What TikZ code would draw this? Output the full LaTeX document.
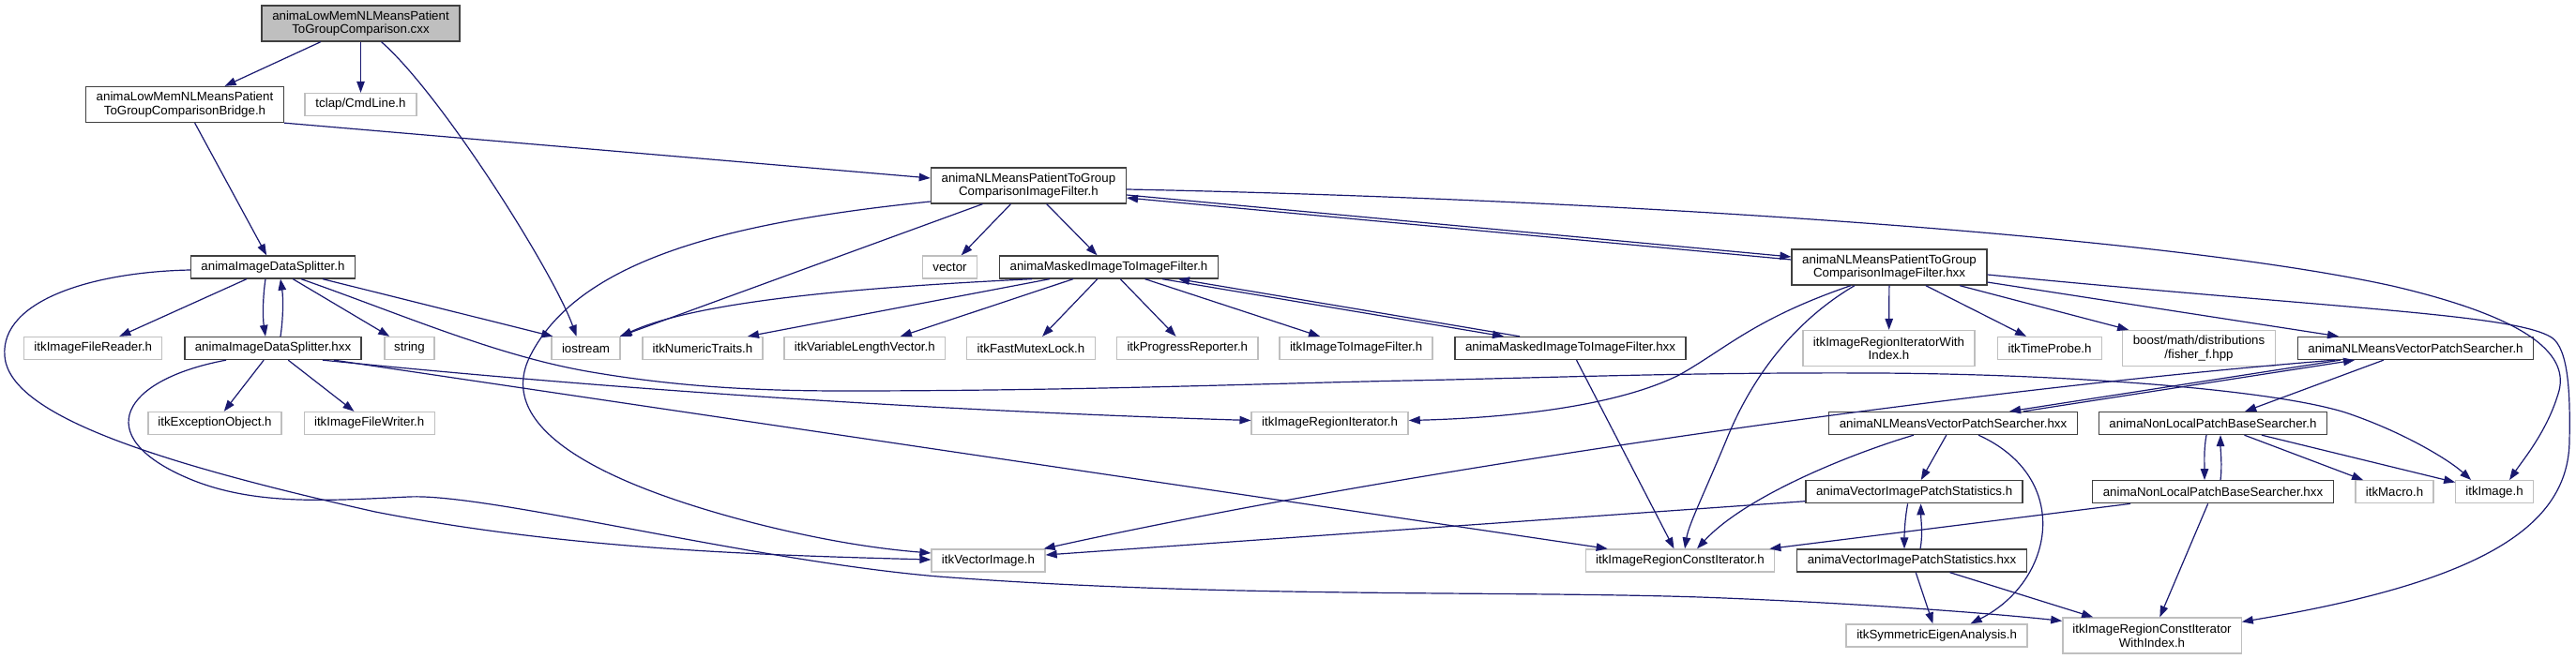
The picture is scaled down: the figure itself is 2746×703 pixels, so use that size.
\documentclass[tikz,border=0pt]{standalone}
\usepackage{fontspec}
\setmainfont{Liberation Sans}
\usetikzlibrary{arrows.meta,calc}
\definecolor{edgec}{HTML}{191970}
\definecolor{ltgray}{HTML}{BFBFBF}
\definecolor{dkgray}{HTML}{404040}
\newcommand\nodefont{\fontsize{13.3}{14.5}\selectfont}
\tikzset{
  box/.style={rectangle, inner sep=0pt, align=center, font=\nodefont, line width=1.3pt},
  dk/.style={box, draw=dkgray},
  lt/.style={box, draw=ltgray},
  e/.style={draw=edgec, line width=1.2pt, -{Triangle[length=12pt,width=8.5pt]}}
}
\begin{document}
\begin{tikzpicture}[x=1pt,y=-1pt]
\fill[white] (0,0) rectangle (2746,703);
\useasboundingbox (0,0) rectangle (2746,703);
% nodes
\node[dk, fill=ltgray, minimum width=211pt, minimum height=38pt] (main) at (384.5,25) {animaLowMemNLMeansPatient\\ToGroupComparison.cxx};
\node[dk, minimum width=210.5pt, minimum height=38pt] (bridge) at (197,111.5) {animaLowMemNLMeansPatient\\ToGroupComparisonBridge.h};
\node[lt, minimum width=119pt, minimum height=24pt] (tclap) at (384.5,111.5) {tclap/CmdLine.h};
\node[dk, minimum width=208pt, minimum height=38pt] (nlf) at (1096.4,198) {animaNLMeansPatientToGroup\\ComparisonImageFilter.h};
\node[dk, minimum width=174.6pt, minimum height=24pt] (dsh) at (291,285) {animaImageDataSplitter.h};
\node[lt, minimum width=58pt, minimum height=24pt] (vector) at (1012.5,285) {vector};
\node[dk, minimum width=232.6pt, minimum height=24pt] (maskh) at (1182,285) {animaMaskedImageToImageFilter.h};
\node[dk, minimum width=208pt, minimum height=38pt] (nlfhxx) at (2014,285) {animaNLMeansPatientToGroup\\ComparisonImageFilter.hxx};
\node[lt, minimum width=147pt, minimum height=24pt] (reader) at (99.3,371.5) {itkImageFileReader.h};
\node[dk, minimum width=188pt, minimum height=24pt] (dshxx) at (291,371.5) {animaImageDataSplitter.hxx};
\node[lt, minimum width=53pt, minimum height=24pt] (string) at (436.5,371.5) {string};
\node[lt, minimum width=73pt, minimum height=24pt] (iostream) at (624.5,371.5) {iostream};
\node[lt, minimum width=128pt, minimum height=24pt] (numtraits) at (749,371.5) {itkNumericTraits.h};
\node[lt, minimum width=171.6pt, minimum height=24pt] (varlen) at (921.8,371.5) {itkVariableLengthVector.h};
\node[lt, minimum width=136.6pt, minimum height=24pt] (mutex) at (1099,371.5) {itkFastMutexLock.h};
\node[lt, minimum width=150.4pt, minimum height=24pt] (progress) at (1265.8,371.5) {itkProgressReporter.h};
\node[lt, minimum width=163pt, minimum height=24pt] (i2i) at (1445.6,371.5) {itkImageToImageFilter.h};
\node[dk, minimum width=246pt, minimum height=24pt] (maskhxx) at (1674,371.5) {animaMaskedImageToImageFilter.hxx};
\node[lt, minimum width=183pt, minimum height=38pt] (riwi) at (2013.5,371.5) {itkImageRegionIteratorWith\\Index.h};
\node[lt, minimum width=110.5pt, minimum height=24pt] (timeprobe) at (2185,371.5) {itkTimeProbe.h};
\node[lt, minimum width=162.5pt, minimum height=38pt] (boost) at (2344,371.5) {boost/math/distributions\\/fisher\_f.hpp};
\node[dk, minimum width=251.5pt, minimum height=24pt] (vpsh) at (2575,371.5) {animaNLMeansVectorPatchSearcher.h};
\node[lt, minimum width=142pt, minimum height=24pt] (exc) at (229,451.5) {itkExceptionObject.h};
\node[lt, minimum width=139pt, minimum height=24pt] (writer) at (393.7,451.5) {itkImageFileWriter.h};
\node[lt, minimum width=167pt, minimum height=24pt] (rit) at (1417.6,451.5) {itkImageRegionIterator.h};
\node[dk, minimum width=264.5pt, minimum height=24pt] (vpshxx) at (2082,451.5) {animaNLMeansVectorPatchSearcher.hxx};
\node[dk, minimum width=243.5pt, minimum height=24pt] (nlbsh) at (2359,451.5) {animaNonLocalPatchBaseSearcher.h};
\node[dk, minimum width=231pt, minimum height=24pt] (vpsth) at (2040.6,524.7) {animaVectorImagePatchStatistics.h};
\node[dk, minimum width=256.5pt, minimum height=24pt] (nlbshxx) at (2359,524.7) {animaNonLocalPatchBaseSearcher.hxx};
\node[lt, minimum width=83pt, minimum height=24pt] (macro) at (2552.5,524.7) {itkMacro.h};
\node[lt, minimum width=82.4pt, minimum height=24pt] (itkimage) at (2659,524.7) {itkImage.h};
\node[lt, minimum width=121pt, minimum height=24pt] (vecimg) at (1053.5,598) {itkVectorImage.h};
\node[lt, minimum width=201.4pt, minimum height=24pt] (rcit) at (1791,598) {itkImageRegionConstIterator.h};
\node[dk, minimum width=244.4pt, minimum height=24pt] (vpsthxx) at (2038,598) {animaVectorImagePatchStatistics.hxx};
\node[lt, minimum width=193pt, minimum height=24pt] (eigen) at (2064.6,678) {itkSymmetricEigenAnalysis.h};
\node[lt, minimum width=190.3pt, minimum height=38pt] (rciwi) at (2294,678) {itkImageRegionConstIterator\\WithIndex.h};
% edges
\draw[e] (main) -- (bridge);
\draw[e] (main) -- (tclap);
\draw[e] ($(main.south)+(22,0)$) .. controls (470,100) and (590,290) .. ($(iostream.north)+(-10,0)$);
\draw[e] (bridge) -- (dsh);
\draw[e] (bridge.south east) -- ($(nlf.west)+(0,-8)$);
\draw[e] (dsh) -- (reader);
\draw[e] ($(dsh.south)+(-8,0)$) .. controls +(-3,20) and +(-3,-20) .. ($(dshxx.north)+(-8,0)$);
\draw[e] ($(dshxx.north)+(8,0)$) .. controls +(3,-20) and +(3,20) .. ($(dsh.south)+(8,0)$);
\draw[e] (dsh) -- (string);
\draw[e] ($(dsh.south)+(53,0)$) -- ($(iostream.north west)+(2,0)$);
\draw[e] ($(dsh.south)+(30,0)$) .. controls (430,336) and (530,380) .. (631,397) .. controls (720,412) and (800,417) .. (900,417) .. controls (1150,417) and (1350,409) .. (1500,406) .. controls (1650,403) and (1800,397) .. (2000,398) .. controls (2200,399) and (2420,415) .. (2500,440) .. controls (2560,460) and (2610,490) .. ($(itkimage.north west)+(17,0)$);
\draw[e] ($(dsh.west)+(0,3)$) .. controls (100,290) and (0,320) .. (5,380) .. controls (10,440) and (150,490) .. (400,546) .. controls (600,585) and (800,592) .. ($(vecimg.west)+(0,-1)$);
\draw[e] (dshxx) -- (exc);
\draw[e] (dshxx) -- (writer);
\draw[e] ($(dshxx.south)+(53,0)$) .. controls (550,405) and (900,435) .. ($(rit.west)+(0,-3)$);
\draw[e] ($(dshxx.south)+(65,0)$) -- ($(rcit.north west)+(24,0)$);
\draw[e] ($(dshxx.south)+(-50,0)$) .. controls (130,405) and (95,465) .. (200,510) .. controls (270,540) and (350,534) .. (436,530) .. controls (520,526) and (800,598) .. (1000,615) .. controls (1300,638) and (1600,630) .. (1812,637) .. controls (1950,642) and (2100,652) .. ($(rciwi.north west)+(0,4)$);
\draw[e] ($(nlf.east)+(0,4)$) .. controls (1700,212) and (2300,250) .. (2550,305) .. controls (2700,340) and (2740,380) .. (2727,420) .. controls (2715,460) and (2690,490) .. ($(itkimage.north)+(16,0)$);
\draw[e] ($(nlf.east)+(0,10)$) -- ($(nlfhxx.west)+(0,-11)$);
\draw[e] ($(nlfhxx.west)+(0,-8)$) -- ($(nlf.east)+(0,13)$);
\draw[e] (nlf) -- (vector);
\draw[e] (nlf) -- (maskh);
\draw[e] ($(nlf.south)+(-49,0)$) -- ($(iostream.north east)+(-1,0)$);
\draw[e] ($(nlf.west)+(0,17)$) .. controls (800,235) and (620,270) .. (565,380) .. controls (530,450) and (620,510) .. (800,557) .. controls (870,575) and (930,585) .. ($(vecimg.west)+(0,-8)$);
\draw[e] ($(maskh.south)+(-82,0)$) .. controls (950,305) and (750,318) .. (iostream.north east);
\draw[e] ($(maskh.south)+(-63,0)$) -- ($(numtraits.north)+(48,0)$);
\draw[e] (maskh) -- (varlen);
\draw[e] (maskh) -- (mutex);
\draw[e] (maskh) -- (progress);
\draw[e] (maskh) -- (i2i);
\draw[e] ($(maskh.south)+(57,0)$) -- ($(maskhxx.north)+(-71,0)$);
\draw[e] ($(maskhxx.north)+(-54,0)$) -- ($(maskh.south)+(74,0)$);
\draw[e] (maskhxx) -- (rcit);
\draw[e] ($(nlfhxx.south)+(-41,0)$) .. controls (1870,340) and (1840,372) .. (1790,400) .. controls (1720,435) and (1600,446) .. ($(rit.east)+(0,-3)$);
\draw[e] ($(nlfhxx.south)+(-37,0)$) .. controls (1900,350) and (1860,420) .. (1840,470) .. controls (1815,530) and (1800,560) .. ($(rcit.north)+(5,0)$);
\draw[e] (nlfhxx) -- (riwi);
\draw[e] (nlfhxx) -- (timeprobe);
\draw[e] (nlfhxx) -- (boost);
\draw[e] (nlfhxx) -- (vpsh);
\draw[e] ($(nlfhxx.east)+(0,8)$) .. controls (2500,330) and (2680,335) .. (2720,360) .. controls (2738,372) and (2740,420) .. (2739,470) .. controls (2738,560) and (2650,620) .. ($(rciwi.north east)+(0,5)$);
\draw[e] ($(vpsh.south)+(-80,0)$) -- ($(vpshxx.north)+(60,0)$);
\draw[e] ($(vpshxx.north)+(75,0)$) -- ($(vpsh.south)+(-65,0)$);
\draw[e] ($(vpsh.south)+(-86,0)$) .. controls (2100,415) and (1500,500) .. ($(vecimg.north east)+(-2,0)$);
\draw[e] (vpsh) -- (nlbsh);
\draw[e] ($(vpshxx.south)+(-42,0)$) .. controls (1970,485) and (1860,530) .. ($(rcit.north)+(18,0)$);
\draw[e] (vpshxx) -- (vpsth);
\draw[e] ($(vpshxx.south)+(27,0)$) .. controls (2210,510) and (2190,620) .. ($(eigen.north)+(36,0)$);
\draw[e] ($(vpsth.south)+(-7,0)$) .. controls +(-3,16) and +(0,-16) .. ($(vpsthxx.north)+(-8,0)$);
\draw[e] ($(vpsthxx.north)+(9,0)$) .. controls +(3,-16) and +(0,16) .. ($(vpsth.south)+(7,0)$);
\draw[e] ($(vpsth.west)+(0,10)$) -- ($(vecimg.east)+(0,-6)$);
\draw[e] (vpsthxx) -- (eigen);
\draw[e] (vpsthxx) -- (rciwi);
\draw[e] ($(nlbsh.south)+(-7,0)$) .. controls +(-3,16) and +(0,-16) .. ($(nlbshxx.north)+(-9,0)$);
\draw[e] ($(nlbshxx.north)+(8,0)$) .. controls +(2,-16) and +(0,16) .. ($(nlbsh.south)+(8,0)$);
\draw[e] (nlbsh) -- (macro);
\draw[e] (nlbsh) -- (itkimage);
\draw[e] ($(nlbshxx.south)+(-88,0)$) -- ($(rcit.north east)+(-6,0)$);
\draw[e] (nlbshxx) -- (rciwi);
\end{tikzpicture}
\end{document}
